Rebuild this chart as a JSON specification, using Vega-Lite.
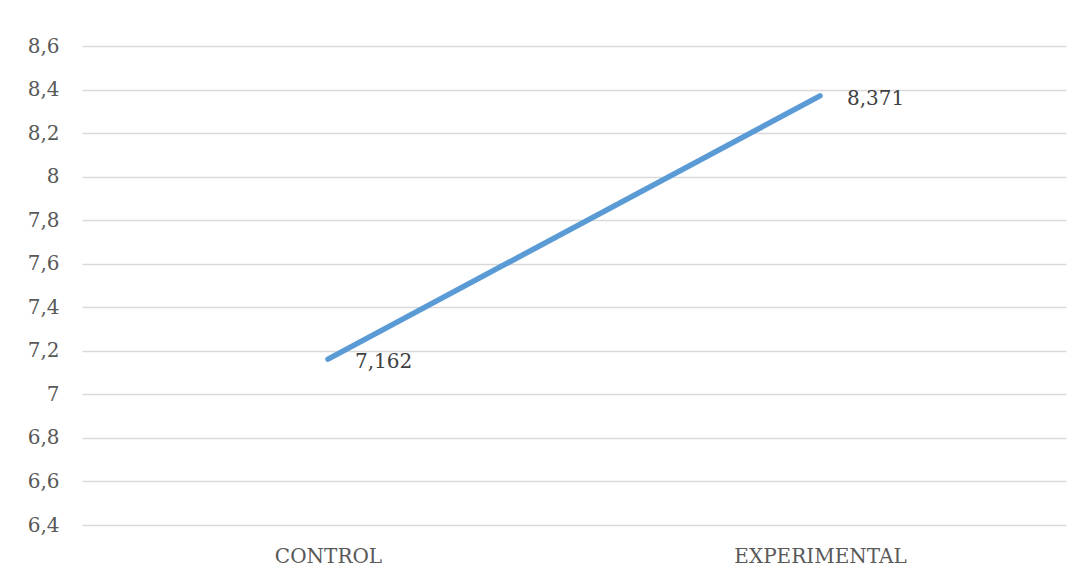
{
  "$schema": "https://vega.github.io/schema/vega-lite/v6.json",
  "autosize": {"type": "none"},
  "width": 984,
  "height": 479,
  "padding": {"left": 82, "top": 46, "right": 19, "bottom": 57},
  "background": "white",
  "config": {
    "view": {"stroke": null},
    "font": "DejaVu Serif"
  },
  "data": {
    "values": [
      {"group": "CONTROL", "value": 7.162, "label": "7,162"},
      {"group": "EXPERIMENTAL", "value": 8.371, "label": "8,371"}
    ]
  },
  "encoding": {
    "x": {
      "field": "group",
      "type": "nominal",
      "sort": null,
      "scale": {"paddingInner": 0, "paddingOuter": 0},
      "axis": {
        "title": null,
        "labelAngle": 0,
        "domain": false,
        "ticks": false,
        "labelFont": "DejaVu Serif",
        "labelFontSize": 20,
        "labelColor": "#595959",
        "labelPadding": 21,
        "grid": false
      }
    },
    "y": {
      "field": "value",
      "type": "quantitative",
      "scale": {"domain": [6.4, 8.6], "nice": false, "zero": false},
      "axis": {
        "title": null,
        "values": [6.4, 6.6, 6.8, 7.0, 7.2, 7.4, 7.6, 7.8, 8.0, 8.2, 8.4, 8.6],
        "labelExpr": "replace(format(datum.value, '.1~f'), '.', ',')",
        "domain": false,
        "ticks": false,
        "grid": true,
        "gridColor": "#D9D9D9",
        "gridWidth": 1.5,
        "labelFont": "DejaVu Serif",
        "labelFontSize": 20,
        "labelColor": "#595959",
        "labelPadding": 23
      }
    }
  },
  "layer": [
    {
      "mark": {"type": "line", "color": "#5B9BD5", "strokeWidth": 5.5, "strokeCap": "round"}
    },
    {
      "mark": {"type": "text", "align": "left", "baseline": "middle", "dx": 27, "dy": 3, "font": "DejaVu Serif", "fontSize": 20, "color": "#404040"},
      "encoding": {"text": {"field": "label"}}
    }
  ]
}
